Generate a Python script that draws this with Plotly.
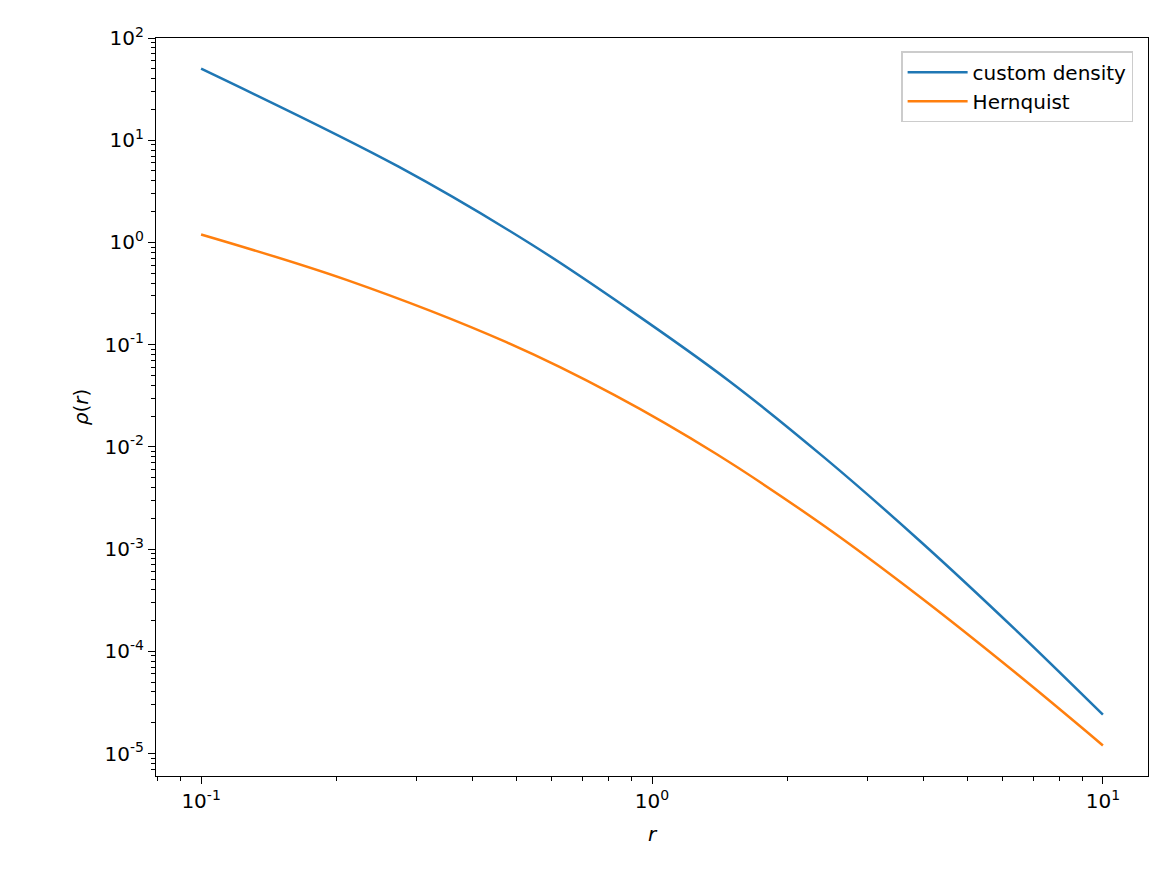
import numpy as np
import plotly.graph_objects as go

# values (log10 r, log10 rho)
custom_logr = [-1.0, -0.562, -0.267, -0.056, 0.171, 0.383, 0.596, 0.807, 1.0]
custom_logrho = [1.70, 0.741, -0.020, -0.640, -1.355, -2.108, -2.928, -3.793, -4.62]
hern_logr = [-1.0, -0.676, -0.323, -0.083, 0.142, 0.383, 0.596, 0.807, 1.0]
hern_logrho = [0.078, -0.369, -0.976, -1.494, -2.068, -2.777, -3.474, -4.213, -4.921]

x_ticks = [-1, 0, 1]
y_ticks = [-5, -4, -3, -2, -1, 0, 1, 2]

def pw(v):
    return [10 ** a for a in v]

fig = go.Figure()
fig.add_trace(go.Scatter(x=pw(custom_logr), y=pw(custom_logrho), mode="lines", line_shape="spline",
                         name="custom density", line=dict(color="#1f77b4", width=2.5)))
fig.add_trace(go.Scatter(x=pw(hern_logr), y=pw(hern_logrho), mode="lines", line_shape="spline",
                         name="Hernquist", line=dict(color="#ff7f0e", width=2.5)))

def minors(lo, hi):
    return [m * 10.0 ** d for d in range(lo, hi) for m in range(2, 10)]

axis_common = dict(type="log", showgrid=False, zeroline=False, showline=True, mirror=True,
                   linecolor="black", linewidth=1.2, ticks="outside", ticklen=7, tickwidth=1.2,
                   tickcolor="black", tickfont=dict(size=20, color="black"), automargin=False)

fig.update_xaxes(**axis_common, range=[-1.1, 1.1],
                 tickvals=pw(x_ticks), ticktext=[f"10<sup>{t}</sup>" for t in x_ticks],
                 minor=dict(tickvals=minors(-2, 2), ticks="outside", ticklen=4, tickcolor="black"),
                 title=dict(text="<i>r</i>", font=dict(size=20), standoff=14))
fig.update_yaxes(**axis_common, range=[-5.22, 2.0],
                 tickvals=pw(y_ticks), ticktext=[f"10<sup>{t}</sup>" for t in y_ticks],
                 minor=dict(tickvals=minors(-6, 2), ticks="outside", ticklen=4, tickcolor="black"),
                 title=dict(text="<i>ρ</i>(<i>r</i>)", font=dict(size=20), standoff=10))

fig.update_layout(
    width=1159, height=877, plot_bgcolor="white", paper_bgcolor="white",
    margin=dict(l=148, r=19, t=30, b=109),
    font=dict(family="DejaVu Sans", color="black"),
    showlegend=True,
    legend=dict(x=0.985, y=0.982, xanchor="right", yanchor="top", bgcolor="white",
                bordercolor="#cccccc", borderwidth=1.5, font=dict(size=20),
                tracegroupgap=6, itemwidth=60),
)

fig.write_html("out.html")
